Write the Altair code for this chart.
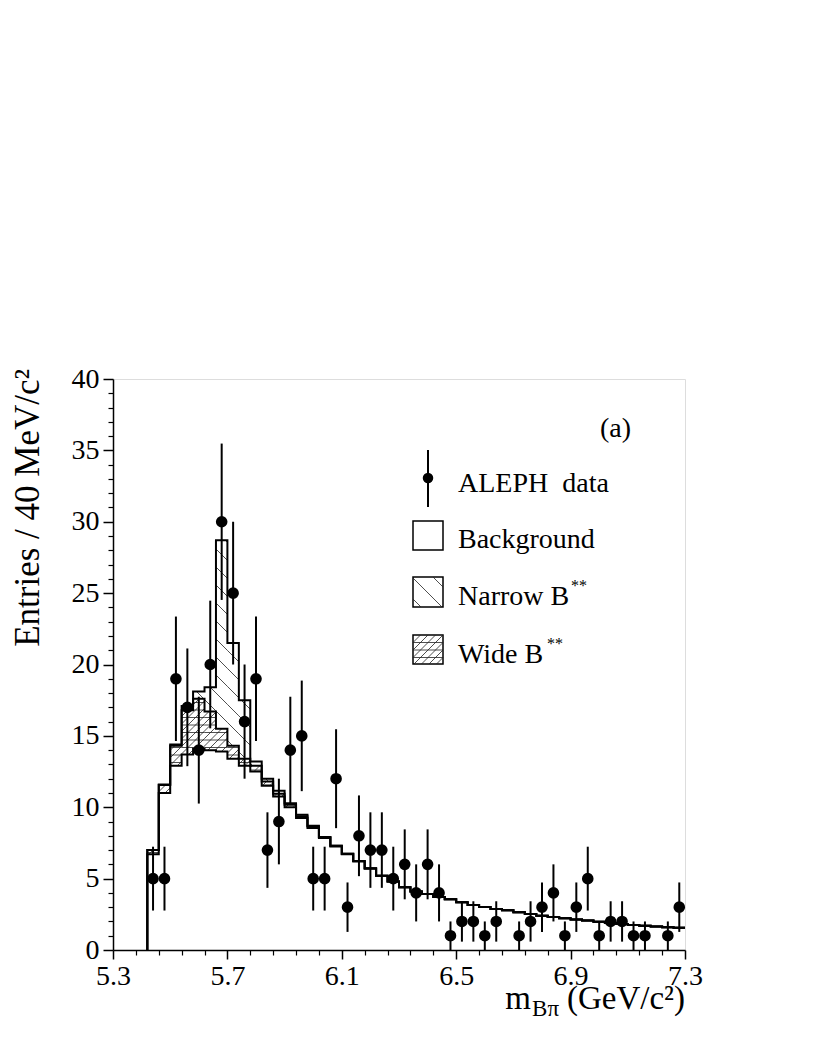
import math
import altair as alt
import pandas as pd

# ---------------- data ----------------
centres = [5.44, 5.48, 5.52, 5.56, 5.60, 5.64, 5.68, 5.72, 5.76, 5.80,
           5.84, 5.88, 5.92, 5.96, 6.00, 6.04, 6.08, 6.12, 6.16, 6.20,
           6.24, 6.28, 6.32, 6.36, 6.40, 6.44, 6.48, 6.52, 6.56, 6.60,
           6.64, 6.68, 6.72, 6.76, 6.80, 6.84, 6.88, 6.92, 6.96, 7.00,
           7.04, 7.08, 7.12, 7.16, 7.20, 7.24, 7.28]
counts = [5, 5, 19, 17, 14, 20, 30, 25, 16, 19,
          7, 9, 14, 15, 5, 5, 12, 3, 8, 7,
          7, 5, 6, 4, 6, 4, 1, 2, 2, 1,
          2, 0, 1, 2, 3, 4, 1, 3, 5, 1,
          2, 2, 1, 1, 0, 1, 3]
background = [6.7, 11.0, 12.9, 13.7, 14.1, 14.0, 13.9, 13.4, 12.9, 12.5,
              11.5, 10.75, 10.0, 9.25, 8.55, 7.85, 7.25, 6.7, 6.2, 5.7,
              5.2, 4.8, 4.4, 4.1, 3.92, 3.72, 3.55, 3.35, 3.15, 3.02,
              2.88, 2.78, 2.65, 2.53, 2.40, 2.32, 2.22, 2.14, 2.06, 1.98,
              1.90, 1.82, 1.75, 1.70, 1.65, 1.60, 1.56]
wide = [0.3, 0.55, 1.4, 3.1, 3.5, 2.7, 1.6, 0.9, 0.5, 0.4,
        0.3, 0.2, 0.18, 0.12, 0.1, 0.07, 0.05, 0.04, 0.03, 0.02,
        0, 0, 0, 0, 0, 0, 0, 0, 0, 0,
        0, 0, 0, 0, 0, 0, 0, 0, 0, 0,
        0, 0, 0, 0, 0, 0, 0]
narrow = [0, 0.05, 0.1, 0.3, 0.5, 1.7, 13.2, 7.2, 4.1, 0.3,
          0.2, 0.2, 0.1, 0.1, 0.05, 0, 0, 0, 0, 0,
          0, 0, 0, 0, 0, 0, 0, 0, 0, 0,
          0, 0, 0, 0, 0, 0, 0, 0, 0, 0,
          0, 0, 0, 0, 0, 0, 0]
x_major = [5.3, 5.7, 6.1, 6.5, 6.9, 7.3]
y_major = [0, 5, 10, 15, 20, 25, 30, 35, 40]

# ---------------- geometry / style ----------------
FONT = "Liberation Serif"
W, H = 572, 571
XMIN, XMAX, YMIN, YMAX = 5.3, 7.3, 0.0, 40.0
SX = W / (XMAX - XMIN)
SY = H / (YMAX - YMIN)
HALF = 0.02

xs = alt.Scale(domain=[XMIN, XMAX], nice=False, zero=False)
ys = alt.Scale(domain=[YMIN, YMAX], nice=False, zero=False)

x_minor = [round(XMIN + 0.08 * k, 2) for k in range(26) if k % 5 != 0]
y_minor = [v for v in range(41) if v % 5 != 0]

lvl1 = background
lvl2 = [b + w for b, w in zip(background, wide)]
lvl3 = [b + w + n for b, w, n in zip(background, wide, narrow)]

# ---------------- step outlines ----------------
rows = []
for name, lv in (("bg", lvl1), ("wide", lvl2), ("total", lvl3)):
    rows.append(dict(series=name, i=0, x=round(centres[0] - HALF, 4), y=0.0))
    for k, (c, v) in enumerate(zip(centres, lv)):
        rows.append(dict(series=name, i=k + 1, x=round(c - HALF, 4), y=v))
    rows.append(dict(series=name, i=len(lv) + 1, x=round(centres[-1] + HALF, 4), y=lv[-1]))
steps = pd.DataFrame(rows)


# ---------------- hatching (computed in pixel space, mapped to data) ----------------
def hatch(X0, X1, Y0, Y1, kind, step):
    segs = []
    if kind == "down":  # X + Y = c
        c = math.ceil((X0 + Y0) / step) * step
        while c < X1 + Y1:
            xa = max(X0, c - Y1)
            xb = min(X1, c - Y0)
            if xb - xa > 0.3:
                segs.append((xa, c - xa, xb, c - xb))
            c += step
    elif kind == "up":  # Y - X = c
        c = math.ceil((Y0 - X1) / step) * step
        while c < Y1 - X0:
            xa = max(X0, Y0 - c)
            xb = min(X1, Y1 - c)
            if xb - xa > 0.3:
                segs.append((xa, xa + c, xb, xb + c))
            c += step
    else:
        c = math.ceil(Y0 / step) * step
        while c < Y1:
            if c > Y0 + 0.3:
                segs.append((X0, c, X1, c))
            c += step
    return segs


def region_px(x0, x1, y0, y1):
    return ((x0 - XMIN) * SX, (x1 - XMIN) * SX, (y0 - YMIN) * SY, (y1 - YMIN) * SY)


hrows = []


def add(segs):
    for (a, b, c, d) in segs:
        hrows.append(dict(x=a / SX + XMIN, y=b / SY + YMIN,
                          x2=c / SX + XMIN, y2=d / SY + YMIN))


NSTEP = 18.0
WSTEP = 7.5
HSTEP = 7.5
for k, c in enumerate(centres):
    x0, x1 = c - HALF, c + HALF
    if lvl3[k] - lvl2[k] > 0.12:
        X0, X1, Y0, Y1 = region_px(x0, x1, lvl2[k], lvl3[k])
        add(hatch(X0, X1, Y0, Y1, "down", NSTEP))
    if lvl2[k] - lvl1[k] > 0.12:
        X0, X1, Y0, Y1 = region_px(x0, x1, lvl1[k], lvl2[k])
        add(hatch(X0, X1, Y0, Y1, "up", WSTEP))
        add(hatch(X0, X1, Y0, Y1, "h", HSTEP))

# legend boxes (plot pixel coords, y downward)
BOX_X0, BOX_X1 = 300, 330
NB = (198, 228)
WB = (256, 285)
add(hatch(BOX_X0, BOX_X1, H - NB[1], H - NB[0], "down", 21.0))
add(hatch(BOX_X0, BOX_X1, H - WB[1], H - WB[0], "up", WSTEP))
add(hatch(BOX_X0, BOX_X1, H - WB[1], H - WB[0], "h", HSTEP))
hatch_df = pd.DataFrame(hrows)

# ---------------- data points ----------------
pts = pd.DataFrame({"x": centres, "n": counts})
pts = pts[pts["n"] > 0]

one = pd.DataFrame({"a": [0]})

# ---------------- layers ----------------
hatch_layer = alt.Chart(hatch_df).mark_rule(color="#222222", strokeWidth=0.8).encode(
    x=alt.X("x:Q", scale=xs, axis=None),
    y=alt.Y("y:Q", scale=ys, axis=None),
    x2="x2:Q", y2="y2:Q")

step_layer = alt.Chart(steps).mark_line(interpolate="step-after", color="black",
                                        strokeWidth=2).encode(
    x=alt.X("x:Q", scale=xs, axis=None),
    y=alt.Y("y:Q", scale=ys, axis=None),
    detail="series:N",
    order="i:Q")

err_layer = alt.Chart(pts).transform_calculate(
    lo="datum.n - sqrt(datum.n)", hi="datum.n + sqrt(datum.n)"
).mark_rule(color="black", strokeWidth=2).encode(
    x=alt.X("x:Q", scale=xs,
            axis=alt.Axis(orient="bottom", values=x_minor, labels=False, tickSize=5,
                          tickWidth=1.2, tickColor="black", domain=False, grid=False,
                          title=None)),
    y=alt.Y("lo:Q", scale=ys,
            axis=alt.Axis(orient="left", values=y_minor, labels=False, tickSize=5,
                          tickWidth=1.2, tickColor="black", domain=False, grid=False,
                          title=None)),
    y2="hi:Q")

pt_layer = alt.Chart(pts).mark_circle(size=135, color="black", opacity=1).encode(
    x=alt.X("x:Q", scale=xs,
            axis=alt.Axis(orient="bottom", values=x_major, format=".1f", labelFont=FONT,
                          labelFontSize=28, labelColor="black", tickColor="black",
                          tickSize=9, tickWidth=1.5, domainColor="black", domainWidth=1.5,
                          grid=False, labelPadding=3, title=None, labelFlush=False,
                          labelOverlap=False)),
    y=alt.Y("n:Q", scale=ys,
            axis=alt.Axis(orient="left", values=y_major, labelFont=FONT,
                          labelFontSize=28, labelColor="black", tickColor="black",
                          tickSize=10, tickWidth=1.5, domainColor="black", domainWidth=1.5,
                          grid=False, labelPadding=4, title=None, labelFlush=False,
                          labelOverlap=False)))


def text(t, x, y, size=28, align="left", baseline="alphabetic", angle=0):
    kw = dict(text=t, font=FONT, fontSize=size, align=align, baseline=baseline,
              color="black")
    if angle:
        kw["angle"] = angle
    return alt.Chart(one).mark_text(**kw).encode(x=alt.value(x), y=alt.value(y))


def box(y0, y1):
    return alt.Chart(one).mark_rect(fill="white", stroke="black", strokeWidth=1.5).encode(
        x=alt.value(BOX_X0), x2=alt.value(BOX_X1), y=alt.value(y0), y2=alt.value(y1))


legend = [
    box(142, 171), box(*NB), box(*WB),
]
legend_top = [
    alt.Chart(one).mark_rule(color="black", strokeWidth=2).encode(
        x=alt.value(315), y=alt.value(71), y2=alt.value(128)),
    alt.Chart(one).mark_circle(size=110, color="black", opacity=1).encode(
        x=alt.value(315), y=alt.value(99)),
    text("(a)", 487, 58),
    text("ALEPH\u00a0\u00a0data", 345, 113),
    text("Background", 345, 169),
    text("Narrow B", 345, 226),
    text("**", 458, 212, size=16),
    text("Wide B", 345, 284),
    text("**", 434, 270, size=16),
    # axis titles
    text("Entries / 40 MeV/c\u00b2", -85, -10, size=35, align="right", baseline="middle",
         angle=270),
    text("(GeV/c\u00b2)", 572, 630, size=33, align="right"),
    text("B\u03c0", 446, 637, size=23, align="right"),
    text("m", 418, 630, size=33, align="right"),
]

chart = alt.layer(
    *legend, hatch_layer, step_layer, err_layer, pt_layer, *legend_top
).resolve_axis(x="independent", y="independent").properties(
    width=W, height=H,
    padding={"left": 105, "top": 371, "right": 45, "bottom": 80},
    autosize=alt.AutoSizeParams(type="none"),
).configure_view(stroke="black", strokeWidth=1.5).configure(
    font=FONT, background="white")

chart.save("out.html", embed_options={"renderer": "svg", "actions": False})
